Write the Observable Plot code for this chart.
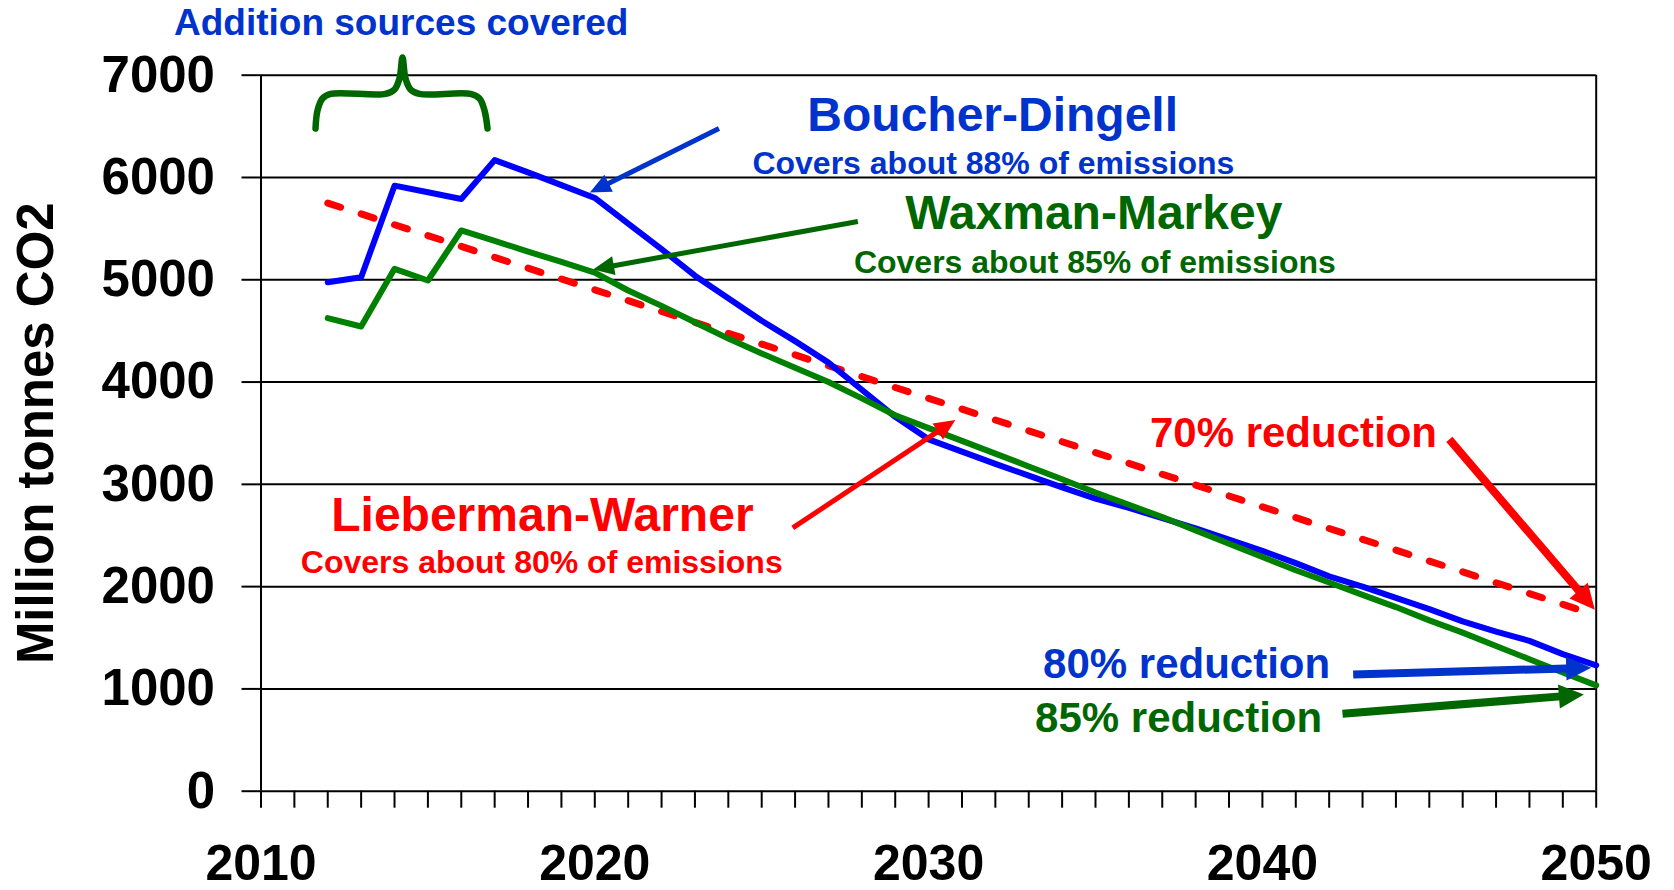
<!DOCTYPE html>
<html>
<head>
<meta charset="utf-8">
<script src="https://cdn.jsdelivr.net/npm/d3@7"></script>
<script src="https://cdn.jsdelivr.net/npm/@observablehq/plot@0.6"></script>
<style>
html, body { margin: 0; padding: 0; background: #fff; overflow: hidden; }
</style>
</head>
<body>
<div id="chart"></div>
<script>
// ---------------- data ----------------
const years = [2012, 2013, 2014, 2015, 2016, 2017, 2018, 2019, 2020, 2021,
               2022, 2023, 2024, 2025, 2026, 2027, 2028, 2029, 2030, 2031,
               2032, 2033, 2034, 2035, 2036, 2037, 2038, 2039, 2040, 2041,
               2042, 2043, 2044, 2045, 2046, 2047, 2048, 2049, 2050];
const boucherDingell = [4975, 5025, 5920, 5855, 5790, 6170, 6050, 5925, 5800, 5550,
                        5300, 5040, 4820, 4600, 4400, 4190, 3925, 3660, 3440, 3320,
                        3200, 3085, 2970, 2860, 2770, 2670, 2570, 2460, 2350, 2230,
                        2100, 2000, 1890, 1780, 1660, 1560, 1470, 1340, 1230];
const waxmanMarkey = [4625, 4543, 5107, 4993, 5482, 5380, 5275, 5175, 5070, 4895,
                      4745, 4585, 4425, 4280, 4140, 4000, 3840, 3675, 3550, 3425,
                      3300, 3175, 3050, 2920, 2800, 2680, 2550, 2420, 2290, 2160,
                      2040, 1920, 1800, 1670, 1550, 1420, 1290, 1160, 1035];
const liebermanYears = [2012, 2050];
const liebermanWarner = [5750, 1720];

const yTicks = [0, 1000, 2000, 3000, 4000, 5000, 6000, 7000];
const xMajorTicks = [2010, 2020, 2030, 2040, 2050];
const xMinorTicks = d3.range(2010, 2051);
const yAxisTitle = "Million tonnes CO2";

// annotations (positions in data units: year, million tonnes)
const noteLabels = [
  {text: "Addition sources covered", series: "BD", x: 2014.2, y: 7506}
];
const titleLabels = [
  {text: "Boucher-Dingell", series: "BD", x: 2031.92, y: 6606},
  {text: "Waxman-Markey", series: "WM", x: 2034.95, y: 5643},
  {text: "Lieberman-Warner", series: "LW", x: 2018.43, y: 2690}
];
const coverageLabels = [
  {text: "Covers about 88% of emissions", series: "BD", x: 2031.94, y: 6134},
  {text: "Covers about 85% of emissions", series: "WM", x: 2034.98, y: 5163},
  {text: "Covers about 80% of emissions", series: "LW", x: 2018.41, y: 2230}
];
const reductionLabels = [
  {text: "70% reduction", series: "LW", x: 2040.93, y: 3493},
  {text: "80% reduction", series: "BD", x: 2037.73, y: 1239},
  {text: "85% reduction", series: "WM", x: 2037.49, y: 706}
];
const pointerArrows = [
  {series: "BD", x1: 2023.72, y1: 6478, x2: 2019.85, y2: 5852},
  {series: "WM", x1: 2027.88, y1: 5570, x2: 2019.95, y2: 5101},
  {series: "LW", x1: 2025.93, y1: 2574, x2: 2030.80, y2: 3630}
];
const reductionArrows = [
  {series: "LW", x1: 2045.60, y1: 3440, x2: 2049.96, y2: 1775},
  {series: "BD", x1: 2042.72, y1: 1140, x2: 2049.85, y2: 1207},
  {series: "WM", x1: 2042.40, y1: 758, x2: 2049.63, y2: 945}
];
const braceYears = [2011.633, 2011.693, 2011.842, 2012.082, 2013.730, 2014.000, 2014.149, 2014.239,
                    2014.329, 2014.479, 2014.749, 2016.277, 2016.546, 2016.696, 2016.786];
const braceValues = [6479, 6655, 6772, 6817, 6817, 6861, 6968, 7174,
                     6968, 6861, 6817, 6817, 6772, 6655, 6479];

// ---------------- tables ----------------
const bdData = years.map((yr, i) => ({year: yr, value: boucherDingell[i]}));
const wmData = years.map((yr, i) => ({year: yr, value: waxmanMarkey[i]}));
const lwData = liebermanYears.map((yr, i) => ({year: yr, value: liebermanWarner[i]}));
const braceData = braceYears.map((yr, i) => ({year: yr, value: braceValues[i]}));

// ---------------- layout & style ----------------
const W = 1674, H = 890, ML = 260.5, MR = 78.3, MT = 74.7, MB = 99.3;
const xDomain = [2010, 2050], yDomain = [0, 7000];
const textColor = {BD: "#0033cc", WM: "#006600", LW: "#ff0000"};
const font = "'Liberation Sans', Arial, Helvetica, sans-serif";

const X = Plot.scale({x: {domain: xDomain, range: [ML, W - MR]}});
const Y = Plot.scale({y: {domain: yDomain, range: [H - MB, MT]}});
function withHead(a, back) {
  const px1 = X.apply(a.x1), py1 = Y.apply(a.y1);
  const px2 = X.apply(a.x2), py2 = Y.apply(a.y2);
  const dx = px2 - px1, dy = py2 - py1, L = Math.hypot(dx, dy);
  return {...a,
    angle: Math.atan2(dx, -dy) * 180 / Math.PI,
    sx: X.invert(px2 - dx / L * back),
    sy: Y.invert(py2 - dy / L * back)};
}
const pointers = pointerArrows.map(a => withHead(a, 14));
const reducers = reductionArrows.map(a => withHead(a, 17));

const chart = Plot.plot({
  width: W, height: H,
  marginLeft: ML, marginRight: MR, marginTop: MT, marginBottom: MB,
  x: {domain: xDomain, label: null},
  y: {domain: yDomain, label: null},
  color: {type: "identity"},
  style: {fontFamily: font, background: "#fff", color: "#000", overflow: "visible"},
  marks: [
    Plot.ruleY(yTicks, {stroke: "#000", strokeWidth: 2}),
    Plot.ruleX(xDomain, {stroke: "#000", strokeWidth: 2}),
    Plot.axisY({ticks: yTicks, tickSize: 19, tickPadding: 27, tickFormat: "d",
      fontSize: 51, fontWeight: "bold", fill: "#000", stroke: "#000", strokeWidth: 2, label: null}),
    Plot.axisX({ticks: xMinorTicks, tickSize: 17, tickFormat: () => "",
      stroke: "#000", strokeWidth: 2, label: null}),
    Plot.axisX({ticks: xMajorTicks, tickSize: 0, tickPadding: 53, tickFormat: "d",
      fontSize: 50, fontWeight: "bold", fill: "#000", label: null}),
    Plot.text([yAxisTitle], {frameAnchor: "left", dx: 36 - ML, rotate: -90,
      textAnchor: "middle", lineAnchor: "middle",
      fontSize: 51, fontWeight: "bold", fill: "#000"}),

    Plot.line(lwData, {x: "year", y: "value", stroke: "#ff0000", strokeWidth: 7,
      strokeDasharray: "13.5,21.6"}),
    Plot.line(bdData, {x: "year", y: "value", stroke: "#0000ff", strokeWidth: 6,
      strokeLinejoin: "round"}),
    Plot.line(wmData, {x: "year", y: "value", stroke: "#008000", strokeWidth: 6,
      strokeLinejoin: "round"}),

    Plot.line(braceData, {x: "year", y: "value", stroke: "#006600", strokeWidth: 6.5,
      curve: "catmull-rom", strokeLinejoin: "round"}),

    Plot.link(pointers, {x1: "x1", y1: "y1", x2: "sx", y2: "sy",
      stroke: d => textColor[d.series], strokeWidth: 5}),
    Plot.vector(pointers, {x: "x2", y: "y2", rotate: "angle", length: 21, r: 9.5,
      shape: "spike", anchor: "end", fill: d => textColor[d.series], stroke: "none"}),
    Plot.link(reducers, {x1: "x1", y1: "y1", x2: "sx", y2: "sy",
      stroke: d => textColor[d.series], strokeWidth: 8}),
    Plot.vector(reducers, {x: "x2", y: "y2", rotate: "angle", length: 25, r: 12,
      shape: "spike", anchor: "end", fill: d => textColor[d.series], stroke: "none"}),

    Plot.text(noteLabels, {x: "x", y: "y", text: "text", fill: d => textColor[d.series],
      fontSize: 37, fontWeight: "bold"}),
    Plot.text(titleLabels, {x: "x", y: "y", text: "text", fill: d => textColor[d.series],
      fontSize: 48, fontWeight: "bold"}),
    Plot.text(coverageLabels, {x: "x", y: "y", text: "text", fill: d => textColor[d.series],
      fontSize: 32, fontWeight: "bold"}),
    Plot.text(reductionLabels, {x: "x", y: "y", text: "text", fill: d => textColor[d.series],
      fontSize: 42, fontWeight: "bold"})
  ]
});
document.getElementById("chart").appendChild(chart);
</script>
</body>
</html>
